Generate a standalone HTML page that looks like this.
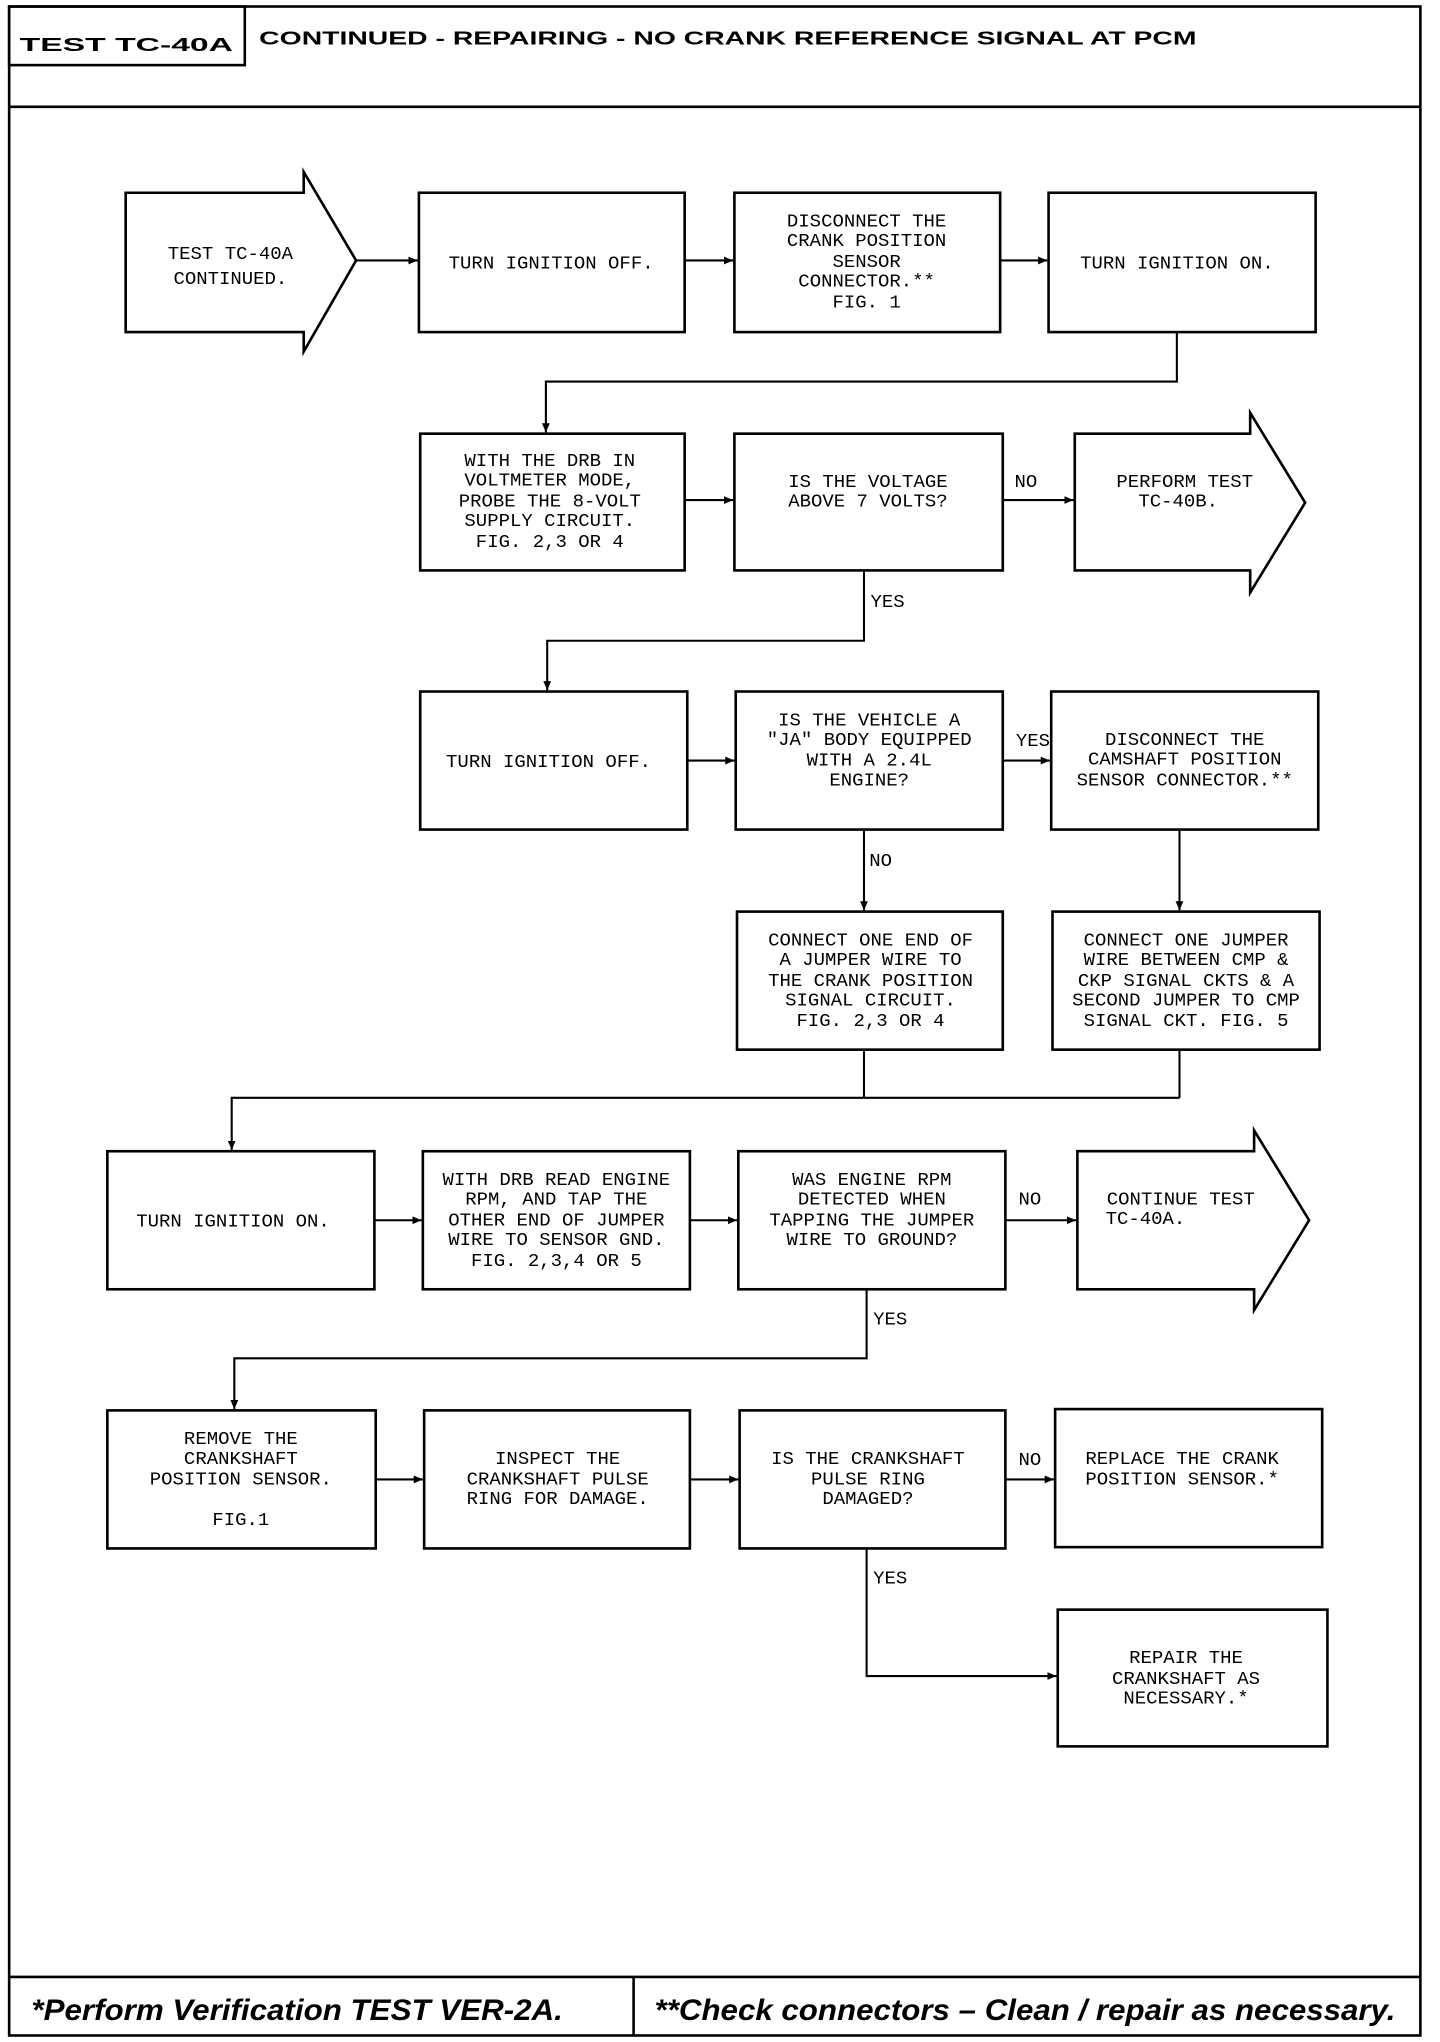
<!DOCTYPE html>
<html><head><meta charset="utf-8"><style>
html,body{margin:0;padding:0;background:#fff;}
svg{display:block;}
text{font-family:"Liberation Mono",monospace;font-size:14.5px;fill:#000;}
.t{font-family:"Liberation Sans",sans-serif;font-weight:bold;}
.f{font-family:"Liberation Sans",sans-serif;font-weight:bold;font-style:italic;font-size:23px;}
</style></head><body>
<svg width="1440" height="2042" viewBox="0 0 1100 1568" preserveAspectRatio="none" xmlns="http://www.w3.org/2000/svg">
<defs><marker id="a" markerWidth="8" markerHeight="8" refX="7" refY="3" orient="auto" markerUnits="userSpaceOnUse"><path d="M0,0 L7,3 L0,6 z" fill="#000"/></marker></defs>
<g fill="none" stroke="#000" stroke-width="2">
<rect x="7" y="5" width="1078" height="1558"/>
<line x1="7" y1="82" x2="1085" y2="82"/>
<rect x="7" y="5" width="180" height="45"/>
<line x1="7" y1="1518" x2="1085" y2="1518"/>
<line x1="484" y1="1518" x2="484" y2="1563"/>
<path d="M96,148 H232 V132 L272,200 L232,270 V255 H96 Z"/>
<rect x="320" y="148" width="203" height="107"/>
<rect x="561" y="148" width="203" height="107"/>
<rect x="801" y="148" width="204" height="107"/>
<rect x="321" y="333" width="202" height="105"/>
<rect x="561" y="333" width="205" height="105"/>
<path d="M821,333 H955 V317 L997,386 L955,455 V438 H821 Z"/>
<rect x="321" y="531" width="204" height="106"/>
<rect x="562" y="531" width="204" height="106"/>
<rect x="803" y="531" width="204" height="106"/>
<rect x="563" y="700" width="203" height="106"/>
<rect x="804" y="700" width="204" height="106"/>
<rect x="82" y="884" width="204" height="106"/>
<rect x="323" y="884" width="204" height="106"/>
<rect x="564" y="884" width="204" height="106"/>
<path d="M823,884 H958 V868 L1000,937 L958,1006 V990 H823 Z"/>
<rect x="82" y="1083" width="205" height="106"/>
<rect x="324" y="1083" width="203" height="106"/>
<rect x="565" y="1083" width="203" height="106"/>
<rect x="806" y="1082" width="204" height="106"/>
<rect x="808" y="1236" width="206" height="105"/>
</g>
<g fill="none" stroke="#000" stroke-width="1.6" marker-end="url(#a)">
<line x1="272" y1="200" x2="319" y2="200"/>
<line x1="523" y1="200" x2="560" y2="200"/>
<line x1="764" y1="200" x2="800" y2="200"/>
<path d="M899,255 V293 H417 V332"/>
<line x1="523" y1="384" x2="560" y2="384"/>
<line x1="766" y1="384" x2="820" y2="384"/>
<path d="M660,438 V492 H418 V530"/>
<line x1="525" y1="584" x2="561" y2="584"/>
<line x1="766" y1="584" x2="802" y2="584"/>
<line x1="660" y1="637" x2="660" y2="699"/>
<line x1="901" y1="637" x2="901" y2="699"/>
<path d="M660,806 V843 H177 V883"/>
<line x1="286" y1="937" x2="322" y2="937"/>
<line x1="527" y1="937" x2="563" y2="937"/>
<line x1="768" y1="937" x2="822" y2="937"/>
<path d="M662,990 V1043 H179 V1082"/>
<line x1="287" y1="1136" x2="323" y2="1136"/>
<line x1="527" y1="1136" x2="564" y2="1136"/>
<line x1="768" y1="1136" x2="805" y2="1136"/>
<path d="M662,1189 V1287 H807"/>
</g>
<line x1="901" y1="806" x2="901" y2="843" stroke="#000" stroke-width="1.6"/>
<line x1="660" y1="843" x2="901" y2="843" stroke="#000" stroke-width="1.6"/>
<text class="t" x="15" y="39" font-size="23" textLength="163" lengthAdjust="spacingAndGlyphs">TEST TC-40A</text>
<text class="t" x="198" y="34" font-size="21" textLength="716" lengthAdjust="spacingAndGlyphs">CONTINUED - REPAIRING - NO CRANK REFERENCE SIGNAL AT PCM</text>
<text class="f" x="24" y="1551" textLength="406" lengthAdjust="spacingAndGlyphs">*Perform Verification TEST VER-2A.</text>
<text class="f" x="500" y="1551" textLength="566" lengthAdjust="spacingAndGlyphs">**Check connectors – Clean / repair as necessary.</text>
<g text-anchor="middle">
<text x="176" y="199">TEST TC-40A</text><text x="176" y="218">CONTINUED.</text>
<text x="421" y="206">TURN IGNITION OFF.</text>
<text x="662" y="174">DISCONNECT THE</text><text x="662" y="189">CRANK POSITION</text><text x="662" y="205">SENSOR</text><text x="662" y="220">CONNECTOR.**</text><text x="662" y="236">FIG. 1</text>
<text x="899" y="206">TURN IGNITION ON.</text>
<text x="420" y="358">WITH THE DRB IN</text><text x="420" y="373">VOLTMETER MODE,</text><text x="420" y="389">PROBE THE 8-VOLT</text><text x="420" y="404">SUPPLY CIRCUIT.</text><text x="420" y="420">FIG. 2,3 OR 4</text>
<text x="663" y="374">IS THE VOLTAGE</text><text x="663" y="389">ABOVE 7 VOLTS?</text>
<text x="905" y="374">PERFORM TEST</text><text x="900" y="389">TC-40B.</text>
<text x="419" y="589">TURN IGNITION OFF.</text>
<text x="664" y="557">IS THE VEHICLE A</text><text x="664" y="572">"JA" BODY EQUIPPED</text><text x="664" y="588">WITH A 2.4L</text><text x="664" y="603">ENGINE?</text>
<text x="905" y="572">DISCONNECT THE</text><text x="905" y="587">CAMSHAFT POSITION</text><text x="905" y="603">SENSOR CONNECTOR.**</text>
<text x="665" y="726">CONNECT ONE END OF</text><text x="665" y="741">A JUMPER WIRE TO</text><text x="665" y="757">THE CRANK POSITION</text><text x="665" y="772">SIGNAL CIRCUIT.</text><text x="665" y="788">FIG. 2,3 OR 4</text>
<text x="906" y="726">CONNECT ONE JUMPER</text><text x="906" y="741">WIRE BETWEEN CMP &amp;</text><text x="906" y="757">CKP SIGNAL CKTS &amp; A</text><text x="906" y="772">SECOND JUMPER TO CMP</text><text x="906" y="788">SIGNAL CKT.  FIG. 5</text>
<text x="178" y="942">TURN IGNITION ON.</text>
<text x="425" y="910">WITH DRB READ ENGINE</text><text x="425" y="925">RPM, AND TAP THE</text><text x="425" y="941">OTHER END OF JUMPER</text><text x="425" y="956">WIRE TO SENSOR GND.</text><text x="425" y="972">FIG. 2,3,4 OR 5</text>
<text x="666" y="910">WAS ENGINE RPM</text><text x="666" y="925">DETECTED WHEN</text><text x="666" y="941">TAPPING THE JUMPER</text><text x="666" y="956">WIRE TO GROUND?</text>
<text x="902" y="925">CONTINUE TEST</text><text x="875" y="940">TC-40A.</text>
<text x="184" y="1109">REMOVE THE</text><text x="184" y="1124">CRANKSHAFT</text><text x="184" y="1140">POSITION SENSOR.</text><text x="184" y="1171">FIG.1</text>
<text x="426" y="1124">INSPECT THE</text><text x="426" y="1140">CRANKSHAFT PULSE</text><text x="426" y="1155">RING FOR DAMAGE.</text>
<text x="663" y="1124">IS THE CRANKSHAFT</text><text x="663" y="1140">PULSE RING</text><text x="663" y="1155">DAMAGED?</text>
<text x="903" y="1124">REPLACE THE CRANK</text><text x="903" y="1140">POSITION SENSOR.*</text>
<text x="906" y="1277">REPAIR THE</text><text x="906" y="1293">CRANKSHAFT AS</text><text x="906" y="1308">NECESSARY.*</text>
</g>
<text x="775" y="374">NO</text><text x="665" y="466">YES</text>
<text x="776" y="573">YES</text><text x="664" y="665">NO</text>
<text x="778" y="925">NO</text><text x="667" y="1017">YES</text>
<text x="778" y="1125">NO</text><text x="667" y="1216">YES</text>
</svg>
</body></html>
